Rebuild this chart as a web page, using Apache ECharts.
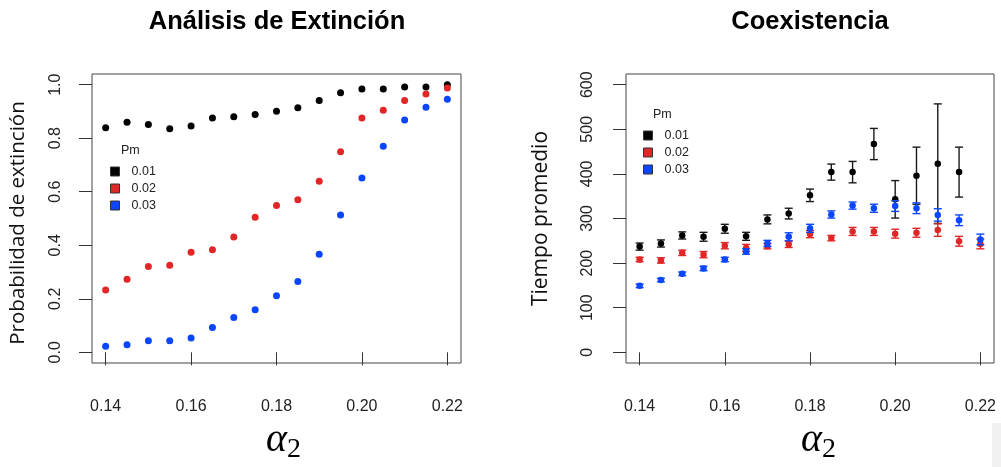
<!DOCTYPE html>
<html>
<head>
<meta charset="utf-8">
<script src="https://cdn.jsdelivr.net/npm/echarts@6/dist/echarts.min.js"></script>
<style>
  html, body { margin: 0; padding: 0; background: #ffffff; }
  #chart { width: 1001px; height: 467px; }
</style>
</head>
<body>
<div id="chart"></div>
<script>
// alpha_2 values shared by both panels
const alpha2 = [0.14, 0.145, 0.15, 0.155, 0.16, 0.165, 0.17, 0.175, 0.18,
                0.185, 0.19, 0.195, 0.20, 0.205, 0.21, 0.215, 0.22];

// axis ticks
const tickAlpha = [0.14, 0.16, 0.18, 0.20, 0.22];
const tickProb = [0, 0.2, 0.4, 0.6, 0.8, 1.0];
const tickTiempo = [0, 100, 200, 300, 400, 500, 600];

// migration probability levels
const pmLevels = ['0.01', '0.02', '0.03'];
const pmColors = ['#000000', '#e02626', '#0a45ff'];

// extinction probability per Pm
const probPm001 = [0.839, 0.860, 0.851, 0.835, 0.846, 0.876, 0.880, 0.889, 0.901,
                   0.914, 0.941, 0.970, 0.984, 0.984, 0.991, 0.991, 1.000];
const probPm002 = [0.233, 0.273, 0.321, 0.325, 0.374, 0.383, 0.431, 0.505, 0.549,
                   0.570, 0.639, 0.749, 0.876, 0.905, 0.941, 0.965, 0.988];
const probPm003 = [0.023, 0.028, 0.043, 0.043, 0.053, 0.093, 0.130, 0.159, 0.211,
                   0.265, 0.366, 0.513, 0.651, 0.770, 0.868, 0.916, 0.946];

// mean coexistence time per Pm, with half-width of the error bar
const tiempoPm001 = [237, 244, 262, 259, 277, 260, 298, 311, 352,
                     404, 404, 467, 343, 396, 423, 404, null];
const errPm001    = [8, 8, 8, 10, 10, 9, 10, 12, 14,
                     18, 24, 35, 42, 64, 134, 56, null];
const tiempoPm002 = [208, 206, 223, 219, 239, 234, 238, 242, 265,
                     256, 271, 271, 266, 268, 274, 249, 243];
const errPm002    = [5, 6, 6, 7, 7, 8, 6, 7, 8,
                     6, 9, 9, 10, 10, 14, 11, 11];
const tiempoPm003 = [149, 162, 176, 188, 208, 226, 244, 259, 278,
                     309, 329, 323, 328, 323, 308, 296, 253];
const errPm003    = [4, 4, 4, 5, 5, 6, 7, 9, 9,
                     8, 8, 9, 12, 12, 14, 12, 12];

const probSeries = [probPm001, probPm002, probPm003];
const tiempoSeries = [tiempoPm001, tiempoPm002, tiempoPm003];
const errSeries = [errPm001, errPm002, errPm003];

const SANS = '"Liberation Sans", Arial, Helvetica, sans-serif';
const LABEL_SANS = '"Open Sans", "Noto Sans", sans-serif';
const SERIF = '"Liberation Serif", "Times New Roman", serif';

function points(ys) {
  const out = [];
  alpha2.forEach((a, i) => { if (ys[i] != null) out.push([a, ys[i]]); });
  return out;
}

function bars(ys, es) {
  const out = [];
  alpha2.forEach((a, i) => {
    if (ys[i] != null) out.push([a, ys[i] - es[i], ys[i] + es[i]]);
  });
  return out;
}

function renderErrorBar(params, api) {
  const x = api.value(0);
  const top = api.coord([x, api.value(2)]);
  const bot = api.coord([x, api.value(1)]);
  const half = 4;
  const style = { stroke: api.visual('color'), lineWidth: 1.4 };
  return {
    type: 'group',
    children: [
      { type: 'line', shape: { x1: top[0], y1: top[1], x2: bot[0], y2: bot[1] }, style },
      { type: 'line', shape: { x1: top[0] - half, y1: top[1], x2: top[0] + half, y2: top[1] }, style },
      { type: 'line', shape: { x1: bot[0] - half, y1: bot[1], x2: bot[0] + half, y2: bot[1] }, style }
    ]
  };
}

function xAxisFor(gridIndex) {
  return {
    type: 'value', gridIndex,
    min: 0.1368, max: 0.2232,
    axisLine: { show: false },
    splitLine: { show: false },
    axisTick: { show: true, customValues: tickAlpha, length: 13, inside: false,
                lineStyle: { color: '#333', width: 1 } },
    axisLabel: { show: true, customValues: tickAlpha, margin: 36,
                 formatter: v => v.toFixed(2),
                 fontFamily: SANS, fontSize: 16, color: '#222' }
  };
}

function yAxisFor(gridIndex, min, max, ticks, digits, margin, name, nameGap, nameSize, namePad) {
  return {
    type: 'value', gridIndex, min, max,
    axisLine: { show: false },
    splitLine: { show: false },
    axisTick: { show: true, customValues: ticks, length: 13, inside: false,
                lineStyle: { color: '#333', width: 1 } },
    axisLabel: { show: true, customValues: ticks, margin, rotate: 90,
                 formatter: v => v.toFixed(digits),
                 fontFamily: SANS, fontSize: 16, color: '#222' },
    name, nameLocation: 'middle', nameRotate: 90, nameGap,
    nameTextStyle: { fontFamily: LABEL_SANS, fontSize: nameSize, color: '#111',
                     padding: namePad }
  };
}

function legendAt(left, top) {
  return {
    data: pmLevels, orient: 'vertical', left, top, padding: 0,
    icon: 'rect', itemWidth: 9, itemHeight: 9, itemGap: 4,
    itemStyle: { borderColor: '#333', borderWidth: 1, opacity: 1 },
    textStyle: { fontFamily: SANS, fontSize: 12.5, color: '#222',
                 lineHeight: 12, padding: [0, 0, 0, 7] },
    selectedMode: false
  };
}

const series = [];
// left panel: extinction probability
probSeries.forEach((ys, k) => {
  series.push({
    name: pmLevels[k], type: 'scatter', xAxisIndex: 0, yAxisIndex: 0,
    symbol: 'circle', symbolSize: 7,
    itemStyle: { color: pmColors[k], opacity: 1 },
    data: points(ys), z: 3 + k
  });
});
// right panel: mean coexistence time with error bars
tiempoSeries.forEach((ys, k) => {
  series.push({
    name: pmLevels[k], type: 'custom', xAxisIndex: 1, yAxisIndex: 1,
    renderItem: renderErrorBar,
    itemStyle: { color: k === 0 ? '#1a1a1a' : pmColors[k] },
    encode: { x: 0, y: [1, 2] },
    data: bars(ys, errSeries[k]), z: 3 + 2 * k
  });
  series.push({
    name: pmLevels[k], type: 'scatter', xAxisIndex: 1, yAxisIndex: 1,
    symbol: 'circle', symbolSize: 6.5,
    itemStyle: { color: pmColors[k], opacity: 1 },
    data: points(ys), z: 4 + 2 * k
  });
});

const chart = echarts.init(document.getElementById('chart'), null, { renderer: 'canvas' });

chart.setOption({
  backgroundColor: '#ffffff',
  animation: false,
  title: [
    { text: 'Análisis de Extinción', left: 277, top: 9, textAlign: 'center', padding: 0,
      textStyle: { fontFamily: SANS, fontSize: 25.5, fontWeight: 'bold', color: '#000' } },
    { text: 'Coexistencia', left: 810, top: 9, textAlign: 'center', padding: 0,
      textStyle: { fontFamily: SANS, fontSize: 25.5, fontWeight: 'bold', color: '#000' } }
  ],
  grid: [
    { left: 92, top: 74, width: 369, height: 289, show: true,
      borderColor: '#444', borderWidth: 1, backgroundColor: 'transparent' },
    { left: 626, top: 74, width: 368, height: 289, show: true,
      borderColor: '#444', borderWidth: 1, backgroundColor: 'transparent' }
  ],
  xAxis: [xAxisFor(0), xAxisFor(1)],
  yAxis: [
    yAxisFor(0, -0.04, 1.04, tickProb, 1, 28, 'Probabilidad de extinción', 63, 20.5, [0, 9, 0, 0]),
    yAxisFor(1, -24, 624, tickTiempo, 0, 30, 'Tiempo promedio', 74, 21, [0, 0, 0, 0])
  ],
  legend: [legendAt(110, 165), legendAt(643, 129)],
  graphic: [
    { type: 'text', left: 121, top: 144,
      style: { text: 'Pm', font: '12.5px ' + SANS, fill: '#222' } },
    { type: 'text', left: 653, top: 108,
      style: { text: 'Pm', font: '12.5px ' + SANS, fill: '#222' } },
    // alpha_2 axis titles
    { type: 'text', x: 287, y: 440,
      style: { text: 'α', font: 'italic 40px ' + SERIF, fill: '#000',
               align: 'right', verticalAlign: 'middle' } },
    { type: 'text', x: 287, y: 450,
      style: { text: '2', font: '28px ' + SERIF, fill: '#000',
               align: 'left', verticalAlign: 'middle' } },
    { type: 'text', x: 822, y: 440,
      style: { text: 'α', font: 'italic 40px ' + SERIF, fill: '#000',
               align: 'right', verticalAlign: 'middle' } },
    { type: 'text', x: 822, y: 450,
      style: { text: '2', font: '28px ' + SERIF, fill: '#000',
               align: 'left', verticalAlign: 'middle' } },
    { type: 'rect', shape: { x: 992, y: 423, width: 9, height: 44 },
      style: { fill: '#f1f1f1' }, silent: true }
  ],
  series
});
</script>
</body>
</html>
